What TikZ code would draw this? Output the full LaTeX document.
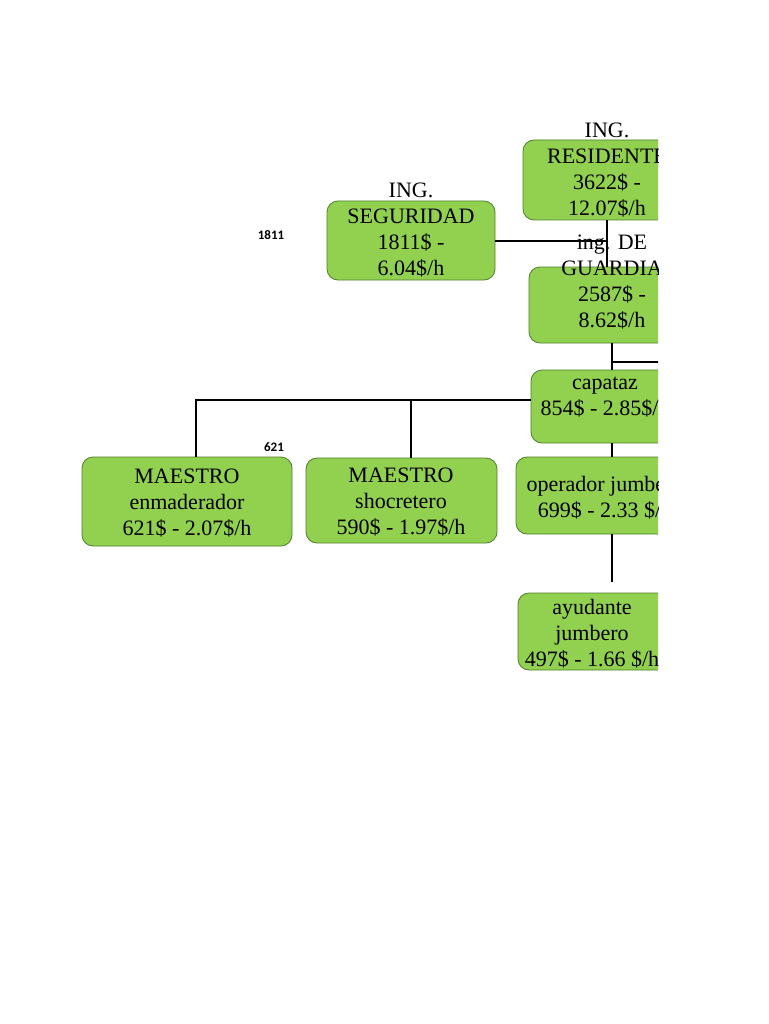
\documentclass[tikz,border=0pt]{standalone}
\usepackage{fontspec}
\setmainfont{Liberation Serif}
\newfontfamily\smallsans{Carlito}
\definecolor{boxfill}{HTML}{92D050}
\definecolor{boxline}{HTML}{4F7F2A}
\begin{document}
\begin{tikzpicture}[x=1pt,y=-1pt,
  box/.style={draw=boxline, line width=0.8pt, fill=boxfill, rounded corners=11pt, inner sep=0pt},
  txt/.style={align=center, inner sep=0pt, font=\fontsize{22}{26}\selectfont},
  tag/.style={inner sep=0pt, font=\smallsans\bfseries\fontsize{13}{15}\selectfont},
  conn/.style={line width=2pt, black}]
\useasboundingbox (0,0) rectangle (768,1024);
\begin{scope}
\clip (0,0) rectangle (658,1024);
% boxes
\node[box, minimum width=168pt, minimum height=80pt] (res) at (607,180) {};
\node[box, minimum width=168pt, minimum height=79pt] (seg) at (411,240.5) {};
\node[box, minimum width=166pt, minimum height=76pt] (grd) at (612,305) {};
\node[box, minimum width=162pt, minimum height=73pt] (cap) at (612,406.5) {};
\node[box, minimum width=210pt, minimum height=89pt] (me) at (187,501.5) {};
\node[box, minimum width=191pt, minimum height=85pt] (ms) at (401.5,500.5) {};
\node[box, minimum width=178pt, minimum height=77pt] (op) at (605,495.5) {};
\node[box, minimum width=152pt, minimum height=77pt] (ayu) at (594,631.5) {};
% connectors
\coordinate (capL) at (531,400);
\coordinate (meJ) at (196,400);
\coordinate (msJ) at (411,400);
\coordinate (grdR) at (700,362);
\coordinate (opEnd) at (612,582);
\draw[conn] (seg.east) -- (seg.east -| res.south);
\draw[conn] (res.south) -- (res.south |- grd.north);
\draw[conn] (grd.south) -- (grd.south |- cap.north);
\draw[conn] (grd.south |- grdR) -- (grdR);
\draw[conn] (capL) -- (meJ) -- (meJ |- me.north);
\draw[conn] (msJ) -- (msJ |- ms.north);
\draw[conn] (cap.south) -- (op.north -| cap.south);
\draw[conn] (op.south -| cap.south) -- (opEnd);
% texts
\node[txt] (resT) at (607,170) {ING.\\RESIDENTE\\3622\$ -\\12.07\$/h};
\node[txt] (segT) at (411,230) {ING.\\SEGURIDAD\\1811\$ -\\6.04\$/h};
\node[txt] (grdT) at (612,282) {ing. DE\\GUARDIA\\2587\$ -\\8.62\$/h};
\node[txt] (capT) at (605,397) {capataz\\854\$ - 2.85\$/h};
\node[txt] (meT) at (187,503) {MAESTRO\\enmaderador\\621\$ - 2.07\$/h};
\node[txt] (msT) at (401,502) {MAESTRO\\shocretero\\590\$ - 1.97\$/h};
\node[txt] (opT) at (605,498) {operador jumbero\\699\$ - 2.33 \$/h};
\node[txt] (ayuT) at (592,634) {ayudante\\jumbero\\497\$ - 1.66 \$/h};
\end{scope}
\node[tag] (t1811) at (271,235) {1811};
\node[tag] (t621) at (274,447) {621};
\end{tikzpicture}
\end{document}
